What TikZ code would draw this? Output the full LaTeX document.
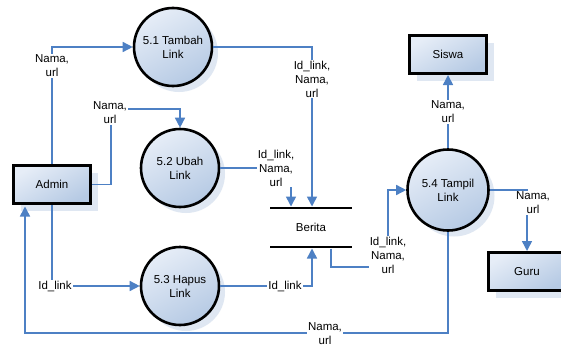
\documentclass[tikz,border=0pt]{standalone}
\usepackage{fontspec}
\setmainfont{Liberation Sans}
\usetikzlibrary{arrows.meta,shadows}
\definecolor{flowblue}{HTML}{4D80C4}
\definecolor{fillA}{HTML}{E6EDF7}
\definecolor{fillB}{HTML}{B6CAE4}
\definecolor{shadowc}{HTML}{DFE7F2}
\begin{document}
\begin{tikzpicture}[x=1pt,y=-1pt,
  font=\fontsize{11.5}{14}\selectfont,
  proc/.style={circle, draw=black, line width=2.6pt, minimum size=78pt, inner sep=0pt,
    align=center, top color=fillA, bottom color=fillB, shading angle=30,
    drop shadow={shadow xshift=6pt, shadow yshift=-6pt, fill=shadowc, opacity=1}},
  entity/.style={rectangle, draw=black, line width=3pt, minimum width=77pt, minimum height=38pt,
    inner sep=0pt, top color=fillA, bottom color=fillB, shading angle=30,
    drop shadow={shadow xshift=7pt, shadow yshift=-7pt, fill=shadowc, opacity=1}},
  flow/.style={draw=flowblue, line width=1.5pt, -{Triangle[length=10pt,width=10pt]}},
  lbl/.style={fill=white, inner sep=1pt, align=center},
  storeline/.style={draw=black, line width=2.6pt},
]
\useasboundingbox (0,0) rectangle (561,348);
\fill[white] (0,0) rectangle (561,348);

% entities
\node[entity] (admin) at (52,184.5) {Admin};
\node[entity] (siswa) at (448,54.5) {Siswa};
\node[entity] (guru) at (527,271.5) {Guru};

% processes
\node[proc] (p51) at (173,47) {5.1 Tambah\\Link};
\node[proc] (p52) at (180,168) {5.2 Ubah\\Link};
\node[proc] (p53) at (180,286) {5.3 Hapus\\Link};
\node[proc, minimum size=81pt] (p54) at (448,190) {5.4 Tampil\\Link};

% data store
\coordinate (stl) at (270,208);
\coordinate (str) at (352,208);
\coordinate (sbl) at (270,247);
\coordinate (sbr) at (352,247);
\draw[storeline] (stl) -- (str);
\draw[storeline] (sbl) -- (sbr);
\node (berita) at (311,227.5) {Berita};
\coordinate (bt1) at (312,206.5);
\coordinate (bt2) at (291,206.5);
\coordinate (bb1) at (312,248.5);
\coordinate (bb2) at (331,248.5);

% helper corners
\coordinate (c2a) at (111,109);
\coordinate (c7a) at (388,267);
\coordinate (c10) at (25,333);
\coordinate (adminb) at (25,206.5);

% connectors
\draw[flow] (admin.north) |- (p51.west);
\draw[flow] (admin.east) -| (c2a) -| (p52.north);
\draw[flow] (p51.east) -| (bt1);
\draw[flow] (p52.east) -| (bt2);
\draw[flow] (p53.east) -| (bb1);
\draw[flow] (admin.south) |- (p53.west);
\draw[flow] (bb2) |- (c7a) |- (p54.west);
\draw[flow] (p54.north) -- (siswa.south);
\draw[flow] (p54.east) -| (guru.north);
\draw[flow] (p54.south) |- (c10) -- (adminb);

% labels
\node[lbl] (l1) at (52,66) {Nama,\\url};
\node[lbl] (l2) at (110,113) {Nama,\\url};
\node[lbl] (l3) at (312,79) {Id\_link,\\Nama,\\url};
\node[lbl] (l4) at (276,168) {Id\_link,\\Nama,\\url};
\node[lbl] (l5) at (285,286) {Id\_link};
\node[lbl] (l6) at (55,286) {Id\_link};
\node[lbl] (l7) at (388,255) {Id\_link,\\Nama,\\url};
\node[lbl] (l8) at (448,112) {Nama,\\url};
\node[lbl] (l9) at (533,203) {Nama,\\url};
\node[lbl] (l10) at (325,334) {Nama,\\url};
\end{tikzpicture}
\end{document}
